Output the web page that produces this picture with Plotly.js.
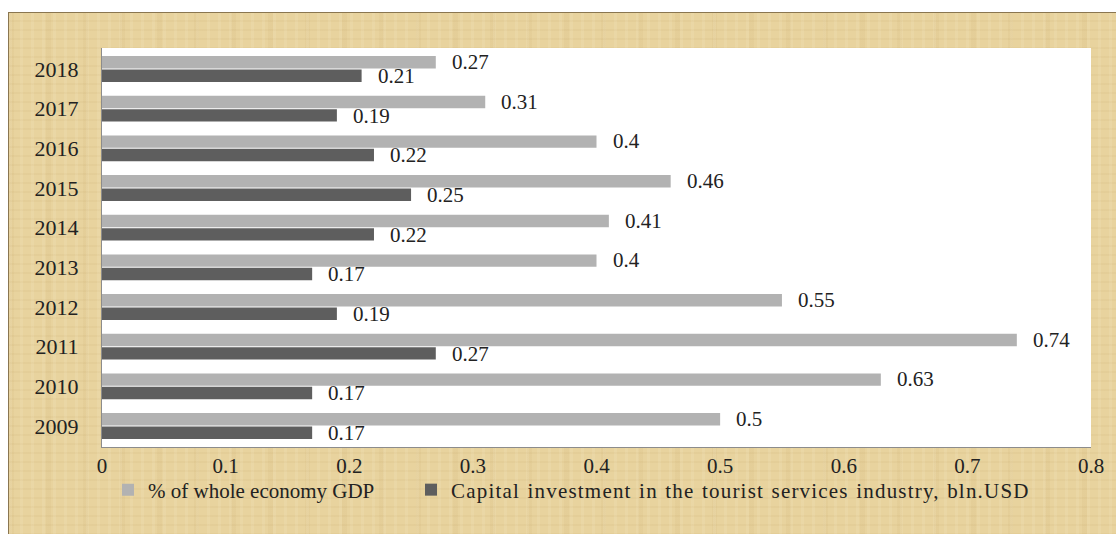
<!DOCTYPE html>
<html>
<head>
<meta charset="utf-8">
<script src="https://cdn.plot.ly/plotly-3.0.1.min.js"></script>
<style>
html,body{margin:0;padding:0;background:#ffffff;}
#wrap{position:relative;width:1116px;height:534px;overflow:hidden;background:#ffffff;}
#tan{position:absolute;left:8px;top:12px;width:1108px;height:522px;
 background-color:#e8d39e;
 border-top:1px solid #8a7650;border-left:1px solid #8a7650;
 background-image:
  repeating-linear-gradient(90deg, rgba(255,250,230,0.10) 0px, rgba(255,250,230,0.10) 3px, rgba(0,0,0,0) 3px, rgba(0,0,0,0) 11px),
  repeating-linear-gradient(0deg, rgba(150,110,40,0.05) 0px, rgba(150,110,40,0.05) 2px, rgba(0,0,0,0) 2px, rgba(0,0,0,0) 9px),
  repeating-linear-gradient(90deg, rgba(170,130,60,0.06) 0px, rgba(170,130,60,0.06) 5px, rgba(0,0,0,0) 5px, rgba(0,0,0,0) 37px);}
#chart{position:absolute;left:0;top:0;width:1116px;height:534px;}
.wide-legend{letter-spacing:1.2px !important;word-spacing:1px !important;}
</style>
</head>
<body>
<div id="wrap"><div id="tan"></div><div id="chart"></div></div>
<script>
const years = ['2009','2010','2011','2012','2013','2014','2015','2016','2017','2018'];
const gdpShare = [0.5, 0.63, 0.74, 0.55, 0.4, 0.41, 0.46, 0.4, 0.31, 0.27];
const capitalInvestment = [0.17, 0.17, 0.27, 0.19, 0.17, 0.22, 0.25, 0.22, 0.19, 0.21];
const xTickVals = [0, 0.1, 0.2, 0.3, 0.4, 0.5, 0.6, 0.7, 0.8];
const xTickText = ['0', '0.1', '0.2', '0.3', '0.4', '0.5', '0.6', '0.7', '0.8'];
const seriesNames = ['% of whole economy GDP', 'Capital investment in the tourist services industry, bln.USD'];

const lightColor = '#b2b2b2';
const darkColor = '#5e5e5e';
const textColor = '#222222';
const serif = 'Liberation Serif, Times New Roman, serif';

const traces = [
  {type:'bar', orientation:'h', name: seriesNames[1], y: years, x: capitalInvestment,
   marker:{color: darkColor}, legend:'legend2', hoverinfo:'none'},
  {type:'bar', orientation:'h', name: seriesNames[0], y: years, x: gdpShare,
   marker:{color: lightColor}, legend:'legend', hoverinfo:'none'}
];

const annotations = [];
years.forEach((yr, i) => {
  annotations.push({x: gdpShare[i], y: i, xref:'x', yref:'y', text: String(gdpShare[i]),
    showarrow:false, xanchor:'left', yanchor:'middle', xshift:14, yshift:7,
    font:{family: serif, size:21, color: textColor}});
  annotations.push({x: capitalInvestment[i], y: i, xref:'x', yref:'y', text: String(capitalInvestment[i]),
    showarrow:false, xanchor:'left', yanchor:'middle', xshift:14, yshift:-7,
    font:{family: serif, size:21, color: textColor}});
});

const legendBase = {orientation:'h', xref:'container', yref:'container', y:44/534,
    xanchor:'left', yanchor:'middle', bgcolor:'rgba(0,0,0,0)',
    font:{family: serif, size:21, color: textColor}, itemclick:false, itemdoubleclick:false};

const layout = {
  width:1116, height:534,
  paper_bgcolor:'rgba(0,0,0,0)', plot_bgcolor:'#ffffff',
  margin:{l:102, r:25, t:48, b:87},
  barmode:'group', bargap:0.32, bargroupgap:0.08,
  font:{family: serif, size:21, color: textColor},
  xaxis:{range:[0,0.8], tickvals: xTickVals, ticktext: xTickText, showgrid:false, zeroline:false,
    showline:true, linecolor:'#8c8c8c', linewidth:1, ticks:'', ticklabelstandoff:0,
    tickfont:{family: serif, size:21, color: textColor}, fixedrange:true},
  yaxis:{type:'category', showgrid:false, zeroline:false, showline:true, linecolor:'#8c8c8c', linewidth:1,
    ticks:'', ticklabelstandoff:18, tickfont:{family: serif, size:22, color: textColor}, fixedrange:true},
  showlegend:true,
  legend: Object.assign({}, legendBase, {x:108/1116}),
  legend2: Object.assign({}, legendBase, {x:411/1116}),
  annotations: annotations
};

Plotly.newPlot('chart', traces, layout, {displayModeBar:false, staticPlot:true});
function widen(){
  document.querySelectorAll('#chart text').forEach(function(t){
    if (t.textContent.indexOf('Capital investment') === 0) {
      t.classList.add('wide-legend');
      var node = t;
      while (node && node.id !== 'chart') {
        if (node.removeAttribute) node.removeAttribute('clip-path');
        node = node.parentNode;
      }
      var top = t.closest('g.infolayer');
      if (top) top.querySelectorAll('[clip-path]').forEach(function(el){
        if (el.contains(t)) el.removeAttribute('clip-path');
      });
    }
  });
}
widen();
setTimeout(widen, 0);
setTimeout(widen, 200);
</script>
</body>
</html>
